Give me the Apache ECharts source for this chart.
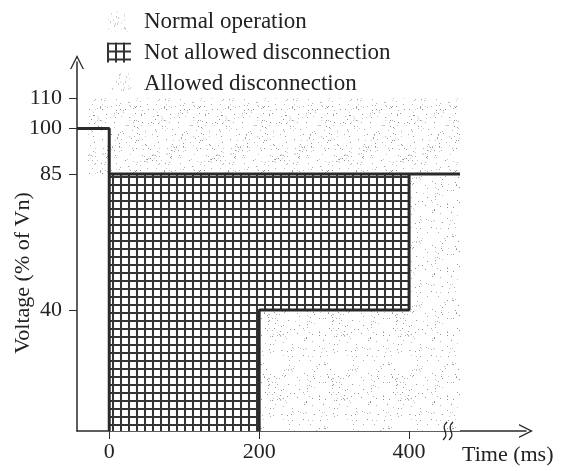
<!DOCTYPE html>
<html>
<head>
<meta charset="utf-8">
<script src="https://cdn.jsdelivr.net/npm/echarts@6/dist/echarts.min.js"></script>
<style>
  html, body { margin: 0; padding: 0; background: #fff; }
  #chart { width: 564px; height: 471px; }
</style>
</head>
<body>
<div id="chart"></div>
<script>
  // tick values
  const timeTicks = [0, 200, 400];
  const voltTicks = [40, 85, 100, 110];

  // regions (time in ms, voltage in % of Vn)
  const normalT = [-28, 468, 468, -28];
  const normalV = [110, 110, 85, 85];
  const blockedT = [0, 0, 400, 400, 200, 200];
  const blockedV = [0, 85, 85, 40, 40, 0];
  const allowedT = [200, 200, 400, 400, 468, 468];
  const allowedV = [0, 40, 40, 85, 85, 0];

  // boundary curve pieces
  const preT = [-43, 0, 0];
  const preV = [100, 100, 0];
  const ceilT = [0, 468];
  const ceilV = [85, 85];
  const stepT = [200, 200, 400, 400];
  const stepV = [0, 40, 40, 85];

  const FONT = 'Liberation Serif';
  const INK = '#2a2a2a';

  // grid hatch texture
  function hatchPattern() {
    const c = document.createElement('canvas');
    c.width = 8; c.height = 8;
    const g = c.getContext('2d');
    g.fillStyle = '#fff';
    g.fillRect(0, 0, 8, 8);
    g.fillStyle = '#333';
    g.fillRect(0, 0, 8, 2);
    g.fillRect(0, 0, 2, 8);
    return c;
  }

  // stipple texture (fixed seed, only a fill look)
  function stipplePattern(count, seed) {
    const c = document.createElement('canvas');
    c.width = 64; c.height = 64;
    const g = c.getContext('2d');
    g.fillStyle = '#fff';
    g.fillRect(0, 0, 64, 64);
    let s = seed;
    const next = () => { s = (s * 1103515245 + 12345) % 2147483648; return s / 2147483648; };
    const shades = ['#939393', '#b0b0b0', '#cacaca'];
    for (let i = 0; i < count; i++) {
      g.fillStyle = shades[Math.floor(next() * 3)];
      g.fillRect(Math.floor(next() * 64), Math.floor(next() * 64), 1, 1);
    }
    return c;
  }

  const hatch = { image: hatchPattern(), repeat: 'repeat' };
  const stippleNormal = { image: stipplePattern(200, 12345), repeat: 'repeat' };
  const stippleAllowed = { image: stipplePattern(140, 777), repeat: 'repeat' };

  function zip(ts, vs) {
    return ts.map((t, i) => [t, vs[i]]);
  }

  function regionSeries(name, ts, vs, fill) {
    return {
      name: name,
      type: 'custom',
      itemStyle: { color: fill },
      data: [0],
      z: 1,
      renderItem: function (params, api) {
        const pts = ts.map((t, i) => api.coord([t, vs[i]]));
        return {
          type: 'polygon',
          shape: { points: pts },
          style: { fill: fill, stroke: null }
        };
      }
    };
  }

  function edgeSeries(ts, vs) {
    return {
      type: 'line',
      data: zip(ts, vs),
      symbol: 'none',
      z: 3,
      lineStyle: { color: INK, width: 3 }
    };
  }

  const arrowPath = 'path://M0,14 L7,0 L14,14 L12.6,14 L7,3 L1.4,14 Z';

  const chart = echarts.init(document.getElementById('chart'));

  chart.setOption({
    animation: false,
    grid: { left: 77, right: 38, top: 62, bottom: 40 },
    legend: {
      orient: 'vertical',
      left: 102,
      top: 5,
      itemWidth: 24,
      itemHeight: 20,
      itemGap: 8,
      icon: 'rect',
      data: ['Normal operation', 'Not allowed disconnection', 'Allowed disconnection'],
      textStyle: { fontFamily: FONT, fontSize: 23, color: '#222', padding: [0, 0, 0, 8], lineHeight: 20 }
    },
    xAxis: {
      type: 'value',
      min: -43,
      max: 556,
      splitLine: { show: false },
      axisLine: {
        show: true,
        lineStyle: { color: INK, width: 1.5 },
        symbol: ['none', arrowPath],
        symbolSize: [14, 14]
      },
      axisTick: { show: true, length: 8, customValues: timeTicks, lineStyle: { color: INK } },
      axisLabel: { customValues: timeTicks, fontFamily: FONT, fontSize: 22, color: '#222', margin: 10 }
    },
    yAxis: {
      type: 'value',
      min: 0,
      max: 122,
      splitLine: { show: false },
      axisLine: {
        show: true,
        onZero: false,
        lineStyle: { color: INK, width: 1.5 },
        symbol: ['none', arrowPath],
        symbolSize: [14, 14]
      },
      axisTick: { show: true, length: 8, customValues: voltTicks, lineStyle: { color: INK } },
      axisLabel: { customValues: voltTicks, fontFamily: FONT, fontSize: 22, color: '#222', margin: 15 }
    },
    series: [
      regionSeries('Normal operation', normalT, normalV, stippleNormal),
      regionSeries('Not allowed disconnection', blockedT, blockedV, hatch),
      regionSeries('Allowed disconnection', allowedT, allowedV, stippleAllowed),
      edgeSeries(preT, preV),
      edgeSeries(ceilT, ceilV),
      edgeSeries(stepT, stepV)
    ]
  });

  // axis names and the break mark on the time axis
  const brk = chart.convertToPixel({ gridIndex: 0 }, [452, 0]);
  function wave(dx) {
    const x = brk[0] + dx, y = brk[1];
    return {
      type: 'bezierCurve',
      z: 10,
      shape: {
        x1: x + 2, y1: y - 9,
        x2: x - 2, y2: y + 9,
        cpx1: x - 6, cpy1: y - 2,
        cpx2: x + 6, cpy2: y + 2
      },
      style: { stroke: '#222', lineWidth: 1.3, fill: null }
    };
  }
  chart.setOption({
    graphic: [
      {
        type: 'text',
        x: 23, y: 273,
        rotation: Math.PI / 2,
        style: {
          text: 'Voltage (% of Vn)',
          font: '22px "' + FONT + '"',
          fill: '#222',
          align: 'center',
          verticalAlign: 'middle'
        }
      },
      {
        type: 'text',
        x: 462, y: 455,
        style: {
          text: 'Time (ms)',
          font: '22px "' + FONT + '"',
          fill: '#222',
          align: 'left',
          verticalAlign: 'middle'
        }
      },
      wave(-3),
      wave(3)
    ]
  });
</script>
</body>
</html>
